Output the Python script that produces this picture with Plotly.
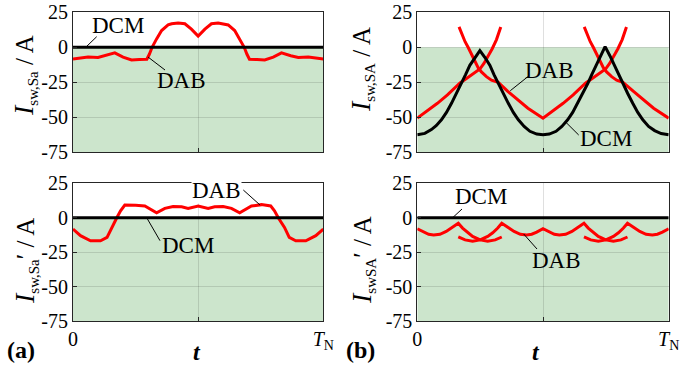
import plotly.graph_objects as go

# ---------------- data (t normalised to T_N) ----------------
# (a) upper: I_sw,Sa
a1_dab_t = [0, 0.03, 0.06, 0.10, 0.13, 0.167, 0.20, 0.234, 0.265, 0.295, 0.305, 0.316, 0.334,
            0.354, 0.38, 0.394, 0.42, 0.447, 0.473, 0.5, 0.527, 0.553, 0.58, 0.606, 0.62,
            0.646, 0.666, 0.684, 0.695, 0.705, 0.735, 0.766, 0.80, 0.833, 0.87, 0.90, 0.94, 0.97, 1.0]
a1_dab_v = [-8.3, -7.5, -7.0, -7.2, -6.0, -4.0, -7.0, -9.0, -8.8, -8.5, -5.0, 0.0, 6.0,
            12.0, 16.0, 16.8, 17.3, 16.8, 13.0, 8.0, 13.0, 16.8, 17.3, 16.8, 16.0,
            12.0, 6.0, 0.0, -5.0, -8.5, -8.8, -9.0, -7.0, -4.0, -6.0, -7.2, -7.0, -7.5, -8.3]
a1_dcm_t = [0, 1]
a1_dcm_v = [0, 0]

# (a) lower: I_sw,Sa'
a2_dab_t = [0, 0.03, 0.07, 0.11, 0.136, 0.155, 0.175, 0.19, 0.207, 0.25, 0.287, 0.334, 0.367,
            0.40, 0.434, 0.46, 0.5, 0.54, 0.566, 0.60, 0.633, 0.666, 0.713, 0.753, 0.79,
            0.805, 0.82, 0.845, 0.864, 0.89, 0.93, 0.97, 1.0]
a2_dab_v = [-8.2, -13.0, -16.7, -16.7, -14.3, -7.0, 0.0, 5.0, 9.2, 9.0, 8.5, 3.6, 6.8,
            8.2, 8.0, 6.8, 8.5, 6.8, 8.0, 8.2, 6.8, 3.6, 8.5, 9.5, 8.5,
            5.0, 0.0, -7.0, -14.3, -16.7, -16.7, -13.0, -8.2]
a2_dcm_t = [0, 1]
a2_dcm_v = [0, 0]

# (b) upper: I_sw,SA
b1_dcm_t = [0, 0.03, 0.056, 0.075, 0.096, 0.116, 0.136, 0.156, 0.176, 0.192, 0.209, 0.23, 0.249,
            0.27, 0.289, 0.305, 0.322, 0.342, 0.362, 0.382, 0.402, 0.425, 0.448, 0.475, 0.5,
            0.525, 0.552, 0.575, 0.598, 0.618, 0.638, 0.658, 0.678, 0.694, 0.711, 0.73, 0.747,
            0.766, 0.784, 0.80, 0.817, 0.837, 0.857, 0.877, 0.897, 0.92, 0.944, 0.97, 1.0]
b1_dcm_v = [-62.4, -61.5, -58.8, -56.0, -51.8, -46.5, -40.0, -33.0, -25.9, -19.5, -12.9, -7.0, -2.4,
            -7.5, -12.9, -19.5, -25.9, -33.0, -40.0, -46.5, -51.8, -56.5, -60.0, -62.0, -62.4,
            -62.0, -60.0, -56.5, -51.8, -46.5, -40.0, -33.0, -25.9, -19.5, -12.9, -6.0, 0.5,
            -6.0, -12.9, -19.5, -25.9, -33.0, -40.0, -46.5, -51.8, -56.5, -59.5, -61.6, -62.4]
# DAB branch 1: rising line to shoulder, then rising arc
b1_dab1_t = [0, 0.04, 0.08, 0.12, 0.15, 0.17, 0.19, 0.21, 0.23, 0.249, 0.265, 0.282, 0.298, 0.315, 0.332]
b1_dab1_v = [-50.6, -45.5, -40.0, -34.0, -29.0, -25.5, -23.0, -20.5, -18.0, -15.5, -11.5, -6.5, -1.0, 5.5, 14.5]
# DAB branch 2: falling arc, valley at T_N/2, rising arc
b1_dab2_t = [0.166, 0.18, 0.19, 0.202, 0.215, 0.229, 0.242, 0.255, 0.275, 0.295, 0.322, 0.36, 0.40,
             0.44, 0.5, 0.54, 0.58, 0.62, 0.65, 0.67, 0.69, 0.71, 0.73, 0.749, 0.765, 0.782,
             0.798, 0.815, 0.832]
b1_dab2_v = [14.6, 8.0, 4.0, 0.0, -5.0, -10.6, -14.5, -17.6, -21.0, -23.5, -25.0, -31.5, -37.5,
             -43.5, -50.6, -45.5, -40.0, -34.0, -29.0, -25.5, -23.0, -20.5, -18.0, -15.5, -11.5, -6.5,
             -1.0, 5.5, 14.5]
# DAB branch 3: falling arc and line to the end
b1_dab3_t = [0.664, 0.678, 0.688, 0.70, 0.713, 0.727, 0.74, 0.753, 0.773, 0.793, 0.818, 0.86, 0.90, 0.94, 1.0]
b1_dab3_v = [14.6, 8.0, 4.0, 0.0, -5.0, -10.6, -14.5, -17.6, -21.0, -23.5, -25.0, -31.5, -37.5, -43.5, -50.6]

# (b) lower: I_swSA'
b2_dab1_t = [0, 0.025, 0.045, 0.065, 0.09, 0.115, 0.14, 0.163, 0.18, 0.20, 0.22, 0.25, 0.28, 0.31, 0.336]
b2_dab1_v = [-8.0, -10.5, -12.0, -12.5, -12.0, -10.0, -7.0, -4.0, -7.5, -10.9, -13.6, -16.1, -17.0, -16.1, -14.0]
b2_dab2_t = [0.163, 0.19, 0.22, 0.25, 0.28, 0.30, 0.32, 0.336, 0.36, 0.385, 0.41, 0.435, 0.455, 0.475,
             0.5, 0.525, 0.545, 0.565, 0.59, 0.615, 0.64, 0.663, 0.68, 0.70, 0.72, 0.75, 0.78, 0.81, 0.836]
b2_dab2_v = [-13.9, -16.1, -17.0, -16.1, -13.6, -10.9, -7.5, -4.0, -7.0, -10.0, -12.0, -12.5, -12.0, -10.5,
             -8.0, -10.5, -12.0, -12.5, -12.0, -10.0, -7.0, -4.0, -7.5, -10.9, -13.6, -16.1, -17.0, -16.1, -14.0]
b2_dab3_t = [0.663, 0.69, 0.72, 0.75, 0.78, 0.80, 0.82, 0.836, 0.86, 0.885, 0.91, 0.935, 0.955, 0.975, 1.0]
b2_dab3_v = [-13.9, -16.1, -17.0, -16.1, -13.6, -10.9, -7.5, -4.0, -7.0, -10.0, -12.0, -12.5, -12.0, -10.5, -8.0]
b2_dcm_t = [0, 1]
b2_dcm_v = [0, 0]

y_ticks = [-75, -50, -25, 0, 25]
y_ticktext = ["-75", "-50", "-25", "0", "25"]
x_ticks = [0, 0.5, 1]
x_ticktext = ["0", "", "<i>T</i><sub>N</sub>"]

# ---------------- styling ----------------
W, H = 694, 367
FONT = '"Liberation Serif", "Times New Roman", Times, serif'
RED = "#ff0000"
BLACK = "#000000"
GREEN = "#cce5cc"
GRID = "rgba(38,38,38,0.15)"
AXC = "#262626"


def px(x):
    return x / W


def py(y):
    return 1 - y / H


fig = go.Figure()

panels = {
    "a1": dict(xa="x", ya="y", xdom=[73, 323.3], ydom=[12.3, 152.3], bottom=False),
    "b1": dict(xa="x2", ya="y2", xdom=[417.3, 668.7], ydom=[12.3, 152.3], bottom=False),
    "a2": dict(xa="x3", ya="y3", xdom=[73, 323.3], ydom=[183.3, 321], bottom=True),
    "b2": dict(xa="x4", ya="y4", xdom=[417.3, 668.7], ydom=[183.3, 321], bottom=True),
}


def add_line(key, t, v, color):
    p = panels[key]
    fig.add_trace(go.Scatter(x=t, y=v, mode="lines", xaxis=p["xa"], yaxis=p["ya"],
                             line=dict(color=color, width=3), showlegend=False,
                             hoverinfo="skip"))


add_line("a1", a1_dab_t, a1_dab_v, RED)
add_line("a1", a1_dcm_t, a1_dcm_v, BLACK)
add_line("a2", a2_dab_t, a2_dab_v, RED)
add_line("a2", a2_dcm_t, a2_dcm_v, BLACK)
add_line("b1", b1_dab1_t, b1_dab1_v, RED)
add_line("b1", b1_dab2_t, b1_dab2_v, RED)
add_line("b1", b1_dab3_t, b1_dab3_v, RED)
add_line("b1", b1_dcm_t, b1_dcm_v, BLACK)
add_line("b2", b2_dab1_t, b2_dab1_v, RED)
add_line("b2", b2_dab2_t, b2_dab2_v, RED)
add_line("b2", b2_dab3_t, b2_dab3_v, RED)
add_line("b2", b2_dcm_t, b2_dcm_v, BLACK)

layout = dict(
    template="none",
    width=W, height=H, margin=dict(l=0, r=0, t=0, b=0, pad=0),
    paper_bgcolor="white", plot_bgcolor="white",
    font=dict(family=FONT, size=20, color="black"),
    showlegend=False,
)

shapes = []
for key, p in panels.items():
    xname = "xaxis" if p["xa"] == "x" else "xaxis" + p["xa"][1:]
    yname = "yaxis" if p["ya"] == "y" else "yaxis" + p["ya"][1:]
    layout[xname] = dict(
        domain=[px(p["xdom"][0]), px(p["xdom"][1])], anchor=p["ya"], range=[0, 1],
        automargin=False,
        tickvals=x_ticks, ticktext=x_ticktext, showticklabels=p["bottom"],
        ticks="inside", ticklen=4, tickcolor=AXC, showgrid=True, gridcolor=GRID, gridwidth=1,
        showline=True, linecolor=AXC, linewidth=1, mirror=True, zeroline=False,
        tickfont=dict(family=FONT, size=20, color="black"),
    )
    layout[yname] = dict(
        domain=[py(p["ydom"][1]), py(p["ydom"][0])], anchor=p["xa"], range=[-75, 25],
        automargin=False,
        tickvals=y_ticks, ticktext=y_ticktext, ticks="inside", ticklen=4, tickcolor=AXC,
        showgrid=True, gridcolor=GRID, gridwidth=1, showline=True, linecolor=AXC, linewidth=1,
        mirror=True, zeroline=False, tickfont=dict(family=FONT, size=20, color="black"),
    )
    shapes.append(dict(type="rect", xref=p["xa"], yref=p["ya"], x0=0, x1=1, y0=-75, y1=0,
                       fillcolor=GREEN, line=dict(width=0), layer="below"))

# leader lines (pixel positions)
leaders = [
    ((86, 47), (96.7, 36.7)),
    ((148, 57), (165, 70)),
    ((510.3, 90.7), (528.7, 76)),
    ((565.3, 121.7), (578.7, 135)),
    ((243.3, 190), (260, 205)),
    ((146.7, 217.7), (160, 240.7)),
    ((452, 218.3), (462, 209)),
    ((523.7, 234), (537, 249)),
]
for (x0, y0), (x1, y1) in leaders:
    shapes.append(dict(type="line", xref="paper", yref="paper", x0=px(x0), y0=py(y0),
                       x1=px(x1), y1=py(y1), line=dict(color="black", width=1), layer="above"))
layout["shapes"] = shapes

ann = []


def label(text, x, y, size=23, bg=None, angle=0):
    d = dict(text=text, x=px(x), y=py(y), xref="paper", yref="paper", showarrow=False,
             xanchor="center", yanchor="middle", textangle=angle,
             font=dict(family=FONT, size=size, color="black"))
    if bg:
        d["bgcolor"] = bg
        d["borderpad"] = 0
    ann.append(d)


label("DCM", 117.5, 25)
label("DAB", 181, 80)
label("DAB", 549, 70)
label("DCM", 606, 138)
label("DAB", 216.7, 190, bg="white")
label("DCM", 188, 245)
label("DCM", 481, 196)
label("DAB", 556, 260)

SUB = '<span style="font-size:15px">%s</span>'
I = '<i><span style="font-size:28px">I</span></i>'
label(I + '<sub>' + SUB % "sw,Sa" + '</sub> / A', 25, 76, size=25, angle=-90)
label(I + '<sub>' + SUB % "sw,SA" + '</sub> / A', 361, 70, size=25, angle=-90)
label(I + '<sub>' + SUB % "sw,Sa" + '</sub>′ / A', 25, 261, size=25, angle=-90)
label(I + '<sub>' + SUB % "swSA" + '</sub>′ / A', 362, 260, size=25, angle=-90)

label("<b><i>t</i></b>", 197, 352, size=24)
label("<b><i>t</i></b>", 536, 352, size=24)
label("<b>(a)</b>", 21, 350, size=24)
label("<b>(b)</b>", 360, 350, size=24)
layout["annotations"] = ann

fig.update_layout(**layout)
fig.write_html("out.html")
